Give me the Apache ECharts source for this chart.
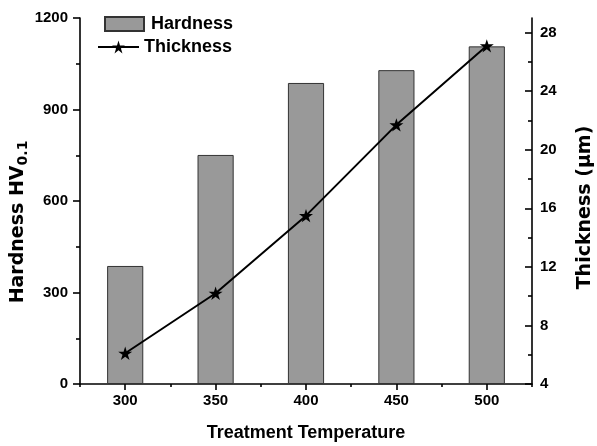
<!DOCTYPE html>
<html>
<head>
<meta charset="utf-8">
<script src="https://cdn.jsdelivr.net/npm/echarts@6/dist/echarts.min.js"></script>
<style>
html,body{margin:0;padding:0;background:#fff;}
#c{width:597px;height:446px;}
</style>
</head>
<body>
<div id="c"></div>
<script>
const categories = ['300', '350', '400', '450', '500'];
const hardness = [387, 751, 987, 1029, 1107];
const thickness = [6.1, 10.2, 15.5, 21.7, 27.1];
const leftTicks = [0, 300, 600, 900, 1200];
const rightTicks = [4, 8, 12, 16, 20, 24, 28];
const rightMinorTicks = [6, 10, 14, 18, 22, 26];

const FONT = 'Liberation Sans';
const VFONT = 'DejaVu Sans';
const star = 'path://M50,0 L61.2,34.5 L97.6,34.5 L68.2,55.9 L79.4,90.5 L50,69.1 L20.6,90.5 L31.8,55.9 L2.4,34.5 L38.8,34.5 Z';

const chart = echarts.init(document.getElementById('c'), null, {renderer: 'canvas'});
const axisLine = {show: true, lineStyle: {color: '#000', width: 1.6}};
const lbl = {color: '#000', fontFamily: FONT, fontWeight: 'bold', fontSize: 15, formatter: function (v) { return String(v); }};

chart.setOption({
  animation: false,
  backgroundColor: '#fff',
  grid: {left: 80, right: 65, top: 18, bottom: 62, containLabel: false, outerBoundsMode: 'none'},
  legend: [
    {
      data: [{name: 'Hardness', icon: 'rect'}], left: 104, top: 15, orient: 'vertical', padding: 0,
      itemWidth: 39, itemHeight: 14,
      textStyle: {color: '#000', fontFamily: FONT, fontWeight: 'bold', fontSize: 18, padding: [0, 0, 0, 2]}
    },
    {
      data: ['Thickness'], left: 97, top: 38, orient: 'vertical', padding: 0,
      itemWidth: 41, itemHeight: 16,
      textStyle: {color: '#000', fontFamily: FONT, fontWeight: 'bold', fontSize: 18}
    }
  ],
  xAxis: [
    {
      type: 'category', data: categories, position: 'bottom',
      axisLine: axisLine,
      axisTick: {show: true, alignWithLabel: true, length: 6, lineStyle: {color: '#000', width: 1.6}},
      axisLabel: Object.assign({}, lbl, {margin: 9}),
      name: 'Treatment Temperature', nameLocation: 'middle', nameGap: 40,
      nameTextStyle: {color: '#000', fontFamily: FONT, fontWeight: 'bold', fontSize: 18},
      splitLine: {show: false}
    },
    {
      type: 'category', data: categories, position: 'bottom',
      axisLine: {show: false},
      axisTick: {show: true, alignWithLabel: false, length: 3, lineStyle: {color: '#000', width: 1.6}},
      axisLabel: {show: false},
      splitLine: {show: false}
    }
  ],
  yAxis: [
    {
      type: 'value', position: 'left', min: 0, max: 1200, interval: 300,
      axisLine: axisLine,
      axisTick: {show: true, length: 7, lineStyle: {color: '#000', width: 1.6}},
      minorTick: {show: true, splitNumber: 2, length: 4, lineStyle: {color: '#000', width: 1.6}},
      axisLabel: Object.assign({}, lbl, {margin: 12, customValues: leftTicks}),
      splitLine: {show: false},
      name: '{a|Hardness HV}{b|0.1}', nameLocation: 'middle', nameGap: 50, nameRotate: 90,
      nameMoveOverlap: false,
      nameTextStyle: {
        color: '#000', fontFamily: VFONT, fontWeight: 'bold', fontSize: 19,
        padding: [0, 42, 0, 0],
        rich: {
          a: {color: '#000', fontFamily: VFONT, fontWeight: 'bold', fontSize: 19},
          b: {color: '#000', fontFamily: VFONT, fontWeight: 'bold', fontSize: 14, padding: [10, 0, 0, 0]}
        }
      }
    },
    {
      type: 'value', position: 'right', min: 4, max: 29, interval: 4, offset: 0,
      axisLine: axisLine,
      axisTick: {show: true, inside: true, length: 7, customValues: rightTicks, lineStyle: {color: '#000', width: 1.6}},
      axisLabel: Object.assign({}, lbl, {margin: 8, customValues: rightTicks}),
      splitLine: {show: false},
      name: 'Thickness (μm)', nameLocation: 'middle', nameGap: 44, nameRotate: 90,
      nameTextStyle: {color: '#000', fontFamily: VFONT, fontWeight: 'bold', fontSize: 19, padding: [0, 13, 0, 0]}
    },
    {
      type: 'value', position: 'right', min: 4, max: 29, interval: 4, offset: 0,
      axisLine: {show: false},
      axisTick: {show: true, inside: true, length: 4, customValues: rightMinorTicks, lineStyle: {color: '#000', width: 1.6}},
      axisLabel: {show: false},
      splitLine: {show: false}
    }
  ],
  series: [
    {
      name: 'Hardness', type: 'bar', xAxisIndex: 0, yAxisIndex: 0,
      data: hardness, barWidth: '40%',
      itemStyle: {color: '#999999', borderColor: '#333', borderWidth: 1}
    },
    {
      name: 'Thickness', type: 'line', xAxisIndex: 0, yAxisIndex: 1,
      data: thickness, symbol: star, symbolSize: 14, symbolKeepAspect: true,
      lineStyle: {color: '#000', width: 2},
      itemStyle: {color: '#000'}
    }
  ]
});
</script>
</body>
</html>
